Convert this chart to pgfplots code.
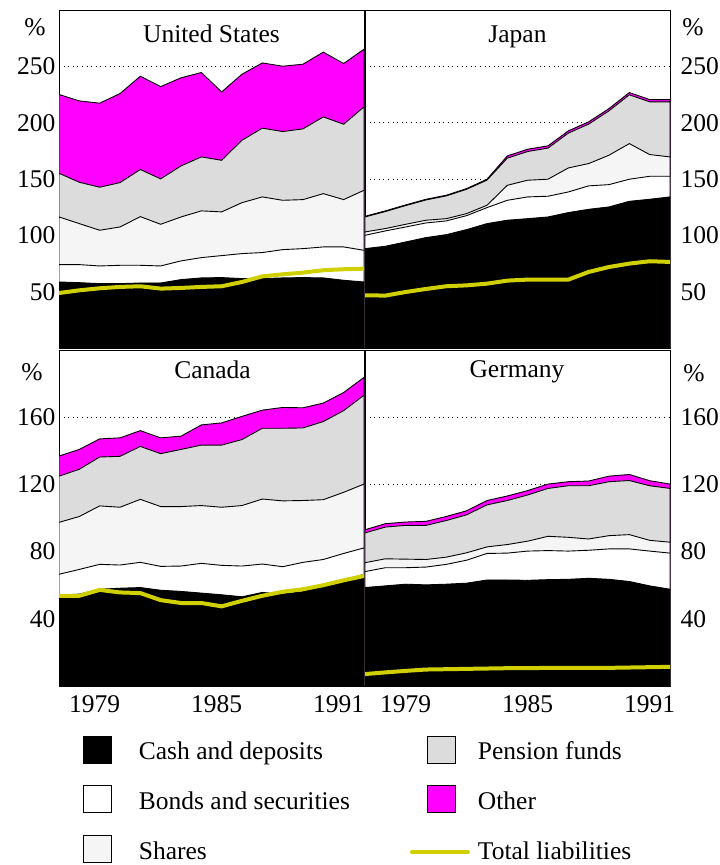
\documentclass[border=0pt]{standalone}
\usepackage{fontspec}
\setmainfont{Liberation Serif}
\usepackage{pgfplots}
\usepackage{pgfplotstable}
\pgfplotsset{compat=1.18}
\definecolor{liab}{RGB}{208,208,0}
\definecolor{pens}{RGB}{220,220,220}
\definecolor{shar}{RGB}{245,245,245}
\definecolor{othr}{RGB}{255,0,255}
\newcommand{\fs}{\fontsize{25.5bp}{30bp}\selectfont}

% columns: cumulative tops of the stacked areas, and total liabilities
\pgfplotstableread{
year top pens shar bond cash liab
1977 225.0 155.1 116.3 74.0 58.6 48.8
1978 219.3 147.1 110.4 74.0 58.0 51.2
1979 217.3 142.7 104.5 72.8 57.1 53.0
1980 225.8 146.8 107.4 73.4 57.1 54.2
1981 241.2 158.4 116.6 73.4 57.7 54.8
1982 232.0 150.1 109.8 72.8 57.7 52.7
1983 239.8 161.6 116.3 77.3 60.7 53.3
1984 244.5 169.6 121.7 80.2 62.2 54.2
1985 227.3 166.6 120.8 82.0 62.5 54.8
1986 243.0 184.4 129.0 83.8 61.6 58.6
1987 253.0 195.1 134.1 84.7 61.6 63.6
1988 250.1 192.1 131.1 87.3 62.2 65.4
1989 251.9 194.5 131.7 88.2 62.5 66.9
1990 262.6 205.1 137.0 89.7 62.2 69.0
1991 252.5 198.6 131.7 89.7 60.1 69.9
1992 265.2 214.0 140.0 86.7 58.6 70.4
}\us
\pgfplotstableread{
year top pens shar bond cash liab
1977 116.9 116.3 103.0 100.0 88.2 46.8
1978 121.7 121.1 106.0 103.9 90.3 46.5
1979 127.0 126.4 109.8 107.4 94.1 49.7
1980 132.0 131.4 113.4 111.0 98.0 52.4
1981 135.6 135.0 114.8 112.8 100.6 54.8
1982 141.5 140.9 119.3 117.5 105.1 55.6
1983 149.8 149.0 126.7 124.6 110.4 57.1
1984 170.5 168.5 144.4 131.1 113.4 59.8
1985 176.4 174.4 148.9 134.1 114.8 60.7
1986 179.4 177.4 149.8 134.7 116.3 60.7
1987 192.7 190.7 159.8 138.5 120.2 60.7
1988 200.7 198.7 163.7 143.9 123.1 67.5
1989 212.5 210.5 171.1 145.0 125.2 71.9
1990 226.7 224.7 181.4 149.8 130.2 74.9
1991 220.5 218.5 171.7 152.4 132.0 77.0
1992 220.5 218.5 169.6 152.4 134.1 76.4
}\jp
\pgfplotstableread{
year top pens shar bond cash liab
1977 136.9 124.9 97.4 66.5 54.1 53.7
1978 140.8 129.0 100.9 69.4 54.7 53.7
1979 147.1 136.3 107.2 72.4 57.6 57.2
1980 147.7 136.7 106.4 72.0 58.2 55.7
1981 152.0 142.6 111.1 73.6 58.6 55.3
1982 147.7 138.3 106.8 71.2 57.0 51.1
1983 148.7 140.8 106.8 71.4 56.3 49.4
1984 155.4 143.4 107.4 73.0 55.3 49.4
1985 156.6 143.4 106.4 71.8 54.3 47.4
1986 160.5 146.7 107.4 71.4 53.1 50.7
1987 164.2 153.4 111.3 72.6 55.7 53.7
1988 165.8 153.4 110.2 71.0 54.7 56.1
1989 165.6 153.6 110.4 73.6 56.1 57.6
1990 168.4 157.4 110.9 75.3 59.6 60.0
1991 174.7 163.9 115.3 78.9 62.9 62.9
1992 183.7 173.1 120.2 82.2 66.5 65.5
}\ca
\pgfplotstableread{
year top pens shar bond cash liab
1977 93.0 91.1 73.4 68.1 58.6 7.1
1978 96.6 94.6 75.7 70.4 59.6 8.1
1979 97.6 95.6 75.5 70.4 60.6 9.0
1980 98.0 95.6 75.3 70.8 60.2 9.8
1981 100.9 98.5 76.7 72.4 60.6 10.0
1982 104.3 101.9 79.3 74.9 61.2 10.2
1983 110.4 107.8 82.8 78.9 63.1 10.4
1984 113.1 110.4 84.2 79.1 63.1 10.6
1985 116.3 113.7 86.2 80.3 62.9 10.6
1986 120.2 117.6 89.1 80.6 63.3 10.8
1987 121.6 119.2 88.5 80.3 63.5 10.8
1988 122.0 119.2 87.5 80.8 64.1 10.8
1989 124.9 121.6 89.5 81.6 63.5 10.8
1990 125.9 122.3 90.1 81.6 62.2 11.0
1991 122.2 119.2 86.7 80.3 59.6 11.2
1992 120.2 117.6 85.6 79.1 57.6 11.4
}\de

\pgfplotsset{
  panel/.style={scale only axis, width=305bp, xmin=1977, xmax=1992, ymin=0,
    axis line style={line width=0.9bp},
    ymajorgrids, major grid style={black, line width=0.8bp, dash pattern=on 0.8bp off 3.8bp},
    major tick length=0pt, xtick={1979,1985,1991},
    ticklabel style={font=\fs},
    /pgf/number format/assume math mode=true,
    anchor=south west},
  ar/.style={draw=black, line width=0.9bp},
  liabline/.style={liab, line width=4bp, line cap=round, line join=round},
  boxleg/.style={legend image code/.code={\draw[##1, line width=0.9bp] (0bp,-10bp) rectangle (28bp,17bp);}},
  lineleg/.style={legend image code/.code={\draw[##1] (-15bp,0.5bp) -- (41bp,0.5bp);}},
}

\newcommand{\stack}[1]{%
  \addplot[ar, fill=othr] table[x=year,y=top]{#1} \closedcycle;
  \addplot[ar, fill=pens] table[x=year,y=pens]{#1} \closedcycle;
  \addplot[ar, fill=shar] table[x=year,y=shar]{#1} \closedcycle;
  \addplot[ar, fill=white] table[x=year,y=bond]{#1} \closedcycle;
  \addplot[ar, fill=black] table[x=year,y=cash]{#1} \closedcycle;
  \addplot[liabline] table[x=year,y=liab]{#1};
}

\begin{document}
\begin{tikzpicture}
\path[use as bounding box] (0,0) rectangle (720bp,865bp);

% United States
\begin{axis}[panel, at={(59bp,517bp)}, height=338bp, ymax=300,
  ytick={50,100,150,200,250}, xticklabels={}]
\stack{\us}
\end{axis}
% Japan
\begin{axis}[panel, at={(365bp,517bp)}, height=338bp, ymax=300,
  ytick={50,100,150,200,250}, xticklabels={}, yticklabel pos=right,
  yticklabel style={xshift=7bp}]
\stack{\jp}
\end{axis}
% Canada
\begin{axis}[panel, at={(59bp,179bp)}, height=336bp, ymax=200,
  ytick={40,80,120,160}, xticklabels={1979,1985,1991},
  xticklabel style={yshift=-6bp, xshift=-5bp}]
\stack{\ca}
\end{axis}
% Germany
\begin{axis}[panel, at={(365bp,179bp)}, height=336bp, ymax=200,
  ytick={40,80,120,160}, xticklabels={1979,1985,1991},
  xticklabel style={yshift=-6bp}, yticklabel pos=right,
  yticklabel style={xshift=7bp}]
\stack{\de}
\end{axis}

% titles and unit labels
\node[anchor=base, font=\fs] at (211.5bp,822bp) {United States};
\node[anchor=base, font=\fs] at (517.5bp,822bp) {Japan};
\node[anchor=base, font=\fs] at (212.5bp,486bp) {Canada};
\node[anchor=base, font=\fs] at (517bp,487bp) {Germany};
\node[font=\fs] at (35bp,838bp) {\%};
\node[font=\fs] at (693bp,838bp) {\%};
\node[font=\fs] at (32bp,493bp) {\%};
\node[font=\fs] at (694bp,492bp) {\%};

% legend
\begin{axis}[at={(0bp,0bp)}, anchor=south west, scale only axis, width=720bp, height=865bp,
  hide axis, xmin=0, xmax=1, ymin=0, ymax=1,
  legend columns=2, legend cell align=left,
  legend style={draw=none, fill=none, inner sep=0pt, outer sep=0pt,
    at={(0.11528,0.1497)}, anchor=north west, font=\fs,
    nodes={inner sep=0pt, text height=18bp, text depth=5bp},
    column sep=0pt, row sep=21bp,
    /tikz/column 1/.append style={column sep=27bp},
    /tikz/column 2/.append style={column sep=60bp},
    /tikz/column 3/.append style={column sep=8bp}}]
\addlegendimage{boxleg, fill=black}
\addlegendentry{Cash and deposits}
\addlegendimage{boxleg, fill=pens}
\addlegendentry{Pension funds}
\addlegendimage{boxleg, fill=white}
\addlegendentry{Bonds and securities}
\addlegendimage{boxleg, fill=othr}
\addlegendentry{Other}
\addlegendimage{boxleg, fill=shar}
\addlegendentry{Shares}
\addlegendimage{lineleg, liab, line width=4bp, line cap=round}
\addlegendentry{Total liabilities}
\end{axis}
\end{tikzpicture}
\end{document}
